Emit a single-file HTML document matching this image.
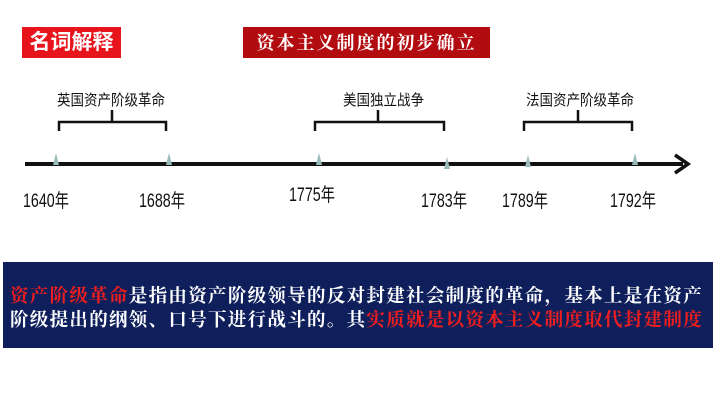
<!DOCTYPE html>
<html><head><meta charset="utf-8"><style>
body{margin:0;width:720px;height:405px;background:#fff;position:relative;overflow:hidden;font-family:"Liberation Sans","Noto Sans CJK SC",sans-serif}
.a{position:absolute}
.yr{position:absolute;top:186px;font-size:19px;color:#111;transform:scaleX(.75);transform-origin:left}
.lb{position:absolute;top:89px;font-size:15px;color:#111;transform:scaleX(.9);transform-origin:left}
.tk{position:absolute;width:0;height:0;border-left:3px solid transparent;border-right:3px solid transparent;border-bottom:12px solid #9bb}
</style></head><body>
<div class="a" style="left:22px;top:27px;width:99px;height:31px;background:#e8141b;color:#fff;font-weight:bold;font-size:21px;line-height:31px;text-align:center">名词解释</div>
<div class="a" style="left:243px;top:27px;width:247px;height:31px;background:#b30c10;color:#fff;font-family:'Noto Serif CJK SC',serif;font-weight:bold;font-size:18px;line-height:31px;text-align:center;letter-spacing:2px">资本主义制度的初步确立</div>
<div class="lb" style="left:57px">英国资产阶级革命</div>
<div class="lb" style="left:343px">美国独立战争</div>
<div class="lb" style="left:526px">法国资产阶级革命</div>
<svg class="a" style="left:0;top:0" width="720" height="405">
<g fill="none" stroke="#111" stroke-width="2.5">
<path d="M59 131V122H166V131M112 122V110"/>
<path d="M315 131V122H444V131M378 122V110"/>
<path d="M524 131V122H632V131M578 122V110"/>
</g>
<line x1="25" y1="164" x2="683" y2="164" stroke="#111" stroke-width="4"/>
<path d="M675 155L688 164L675 173" fill="none" stroke="#111" stroke-width="3.5"/>
</svg>
<div class="tk" style="left:53px;top:153px"></div>
<div class="tk" style="left:166px;top:153px"></div>
<div class="tk" style="left:316px;top:153px"></div>
<div class="tk" style="left:444px;top:157px"></div>
<div class="tk" style="left:525px;top:155px"></div>
<div class="tk" style="left:632px;top:153px"></div>
<div class="yr" style="left:23px">1640年</div>
<div class="yr" style="left:139px">1688年</div>
<div class="yr" style="left:289px;top:180px">1775年</div>
<div class="yr" style="left:421px">1783年</div>
<div class="yr" style="left:502px">1789年</div>
<div class="yr" style="left:610px">1792年</div>
<div class="a" style="left:3px;top:262px;width:710px;height:86px;background:#0e1f5b"></div>
<div class="a" style="left:10px;top:283px;width:710px;font-family:'Noto Serif CJK SC',serif;font-weight:bold;font-size:18.5px;line-height:24px;color:#fff;letter-spacing:1.3px;white-space:nowrap"><span style="color:#f01e1e">资产阶级革命</span>是指由资产阶级领导的反对封建社会制度的革命，基本上是在资产<br>阶级提出的纲领、口号下进行战斗的。其<span style="color:#f01e1e">实质就是以资本主义制度取代封建制度</span></div>
</body></html>
